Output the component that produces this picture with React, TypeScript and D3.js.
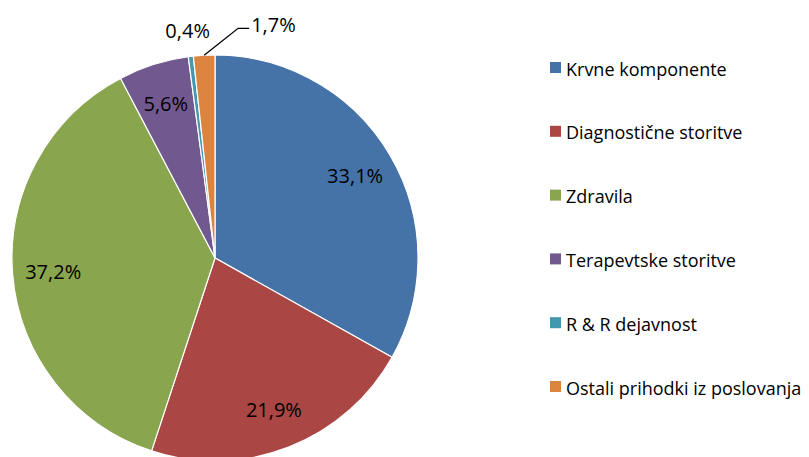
import { useEffect, useRef } from 'react';
import * as d3 from 'd3';

const categories = [
  'Krvne komponente',
  'Diagnostične storitve',
  'Zdravila',
  'Terapevtske storitve',
  'R & R dejavnost',
  'Ostali prihodki iz poslovanja',
];
const shares = [33.1, 21.9, 37.2, 5.6, 0.4, 1.7];
const colors = ['#4572A7', '#AA4643', '#89A54E', '#71588F', '#4198AF', '#DB843D'];

const W = 809;
const H = 457;
const FONT = '"Open Sans", "Liberation Sans", sans-serif';

interface Slice {
  label: string;
  value: number;
  color: string;
}

const fmt = (v: number) => v.toFixed(1).replace('.', ',') + '%';

const App = () => {
  const svgRef = useRef<SVGSVGElement>(null);

  useEffect(() => {
    if (!svgRef.current) return;
    const svg = d3.select(svgRef.current);
    svg.selectAll('*').remove();

    const data: Slice[] = categories.map((c, i) => ({ label: c, value: shares[i], color: colors[i] }));

    const cx = 215;
    const cy = 258;
    const radius = 203;

    const pie = d3.pie<Slice>().sort(null).value(d => d.value);
    const arcs = pie(data);
    const arc = d3.arc<d3.PieArcDatum<Slice>>().innerRadius(0).outerRadius(radius);
    const labelArc = d3.arc<d3.PieArcDatum<Slice>>().innerRadius(radius * 0.8).outerRadius(radius * 0.8);

    const g = svg.append('g').attr('transform', `translate(${cx},${cy})`);

    g.selectAll('path.slice')
      .data(arcs)
      .enter()
      .append('path')
      .attr('class', 'slice')
      .attr('d', arc)
      .attr('fill', d => d.data.color)
      .attr('stroke', '#fff')
      .attr('stroke-width', 1.2);

    // point on the rim at the middle of a slice
    const rimPoint = (d: d3.PieArcDatum<Slice>, r: number) => {
      const a = (d.startAngle + d.endAngle) / 2;
      return [r * Math.sin(a), -r * Math.cos(a)];
    };

    const addLabel = (x: number, y: number, txt: string, anchor = 'middle') =>
      g.append('text')
        .attr('x', x)
        .attr('y', y)
        .attr('text-anchor', anchor)
        .attr('dominant-baseline', 'central')
        .attr('font-family', FONT)
        .attr('font-size', 20)
        .attr('fill', '#000')
        .text(txt);

    arcs.forEach((d, i) => {
      if (d.data.value >= 3) {
        const [x, y] = labelArc.centroid(d);
        addLabel(x, y, fmt(d.data.value));
      } else if (i === 4) {
        // tiny slice, label just outside the rim
        const [x, y] = rimPoint(d, radius * 1.13);
        addLabel(x, y, fmt(d.data.value));
      } else {
        // leader line off to the right
        const [x0, y0] = rimPoint(d, radius);
        const x1 = x0 + 34;
        const y1 = y0 - 27;
        const x2 = x1 + 11;
        g.append('polyline')
          .attr('points', `${x0},${y0} ${x1},${y1} ${x2},${y1}`)
          .attr('fill', 'none')
          .attr('stroke', '#000')
          .attr('stroke-width', 1.3);
        addLabel(x2 + 2, y1 - 4, fmt(d.data.value), 'start');
      }
    });

    // legend
    const legendY = d3.scalePoint<string>().domain(categories).range([67.5, 386.5]);
    const rows = svg.append('g')
      .selectAll('g.row')
      .data(data)
      .enter()
      .append('g')
      .attr('class', 'row')
      .attr('transform', d => `translate(550,${legendY(d.label)})`);
    rows.append('rect')
      .attr('x', 0)
      .attr('y', -5.5)
      .attr('width', 11)
      .attr('height', 11)
      .attr('fill', d => d.color);
    rows.append('text')
      .attr('x', 16)
      .attr('y', 1)
      .attr('dominant-baseline', 'central')
      .attr('font-family', FONT)
      .attr('font-size', 18)
      .attr('fill', '#000')
      .text(d => d.label);
  }, []);

  return (
    <svg
      ref={svgRef}
      width={W}
      height={H}
      style={{ position: 'absolute', left: 0, top: 0, background: '#fff' }}
    />
  );
};

export default App;
